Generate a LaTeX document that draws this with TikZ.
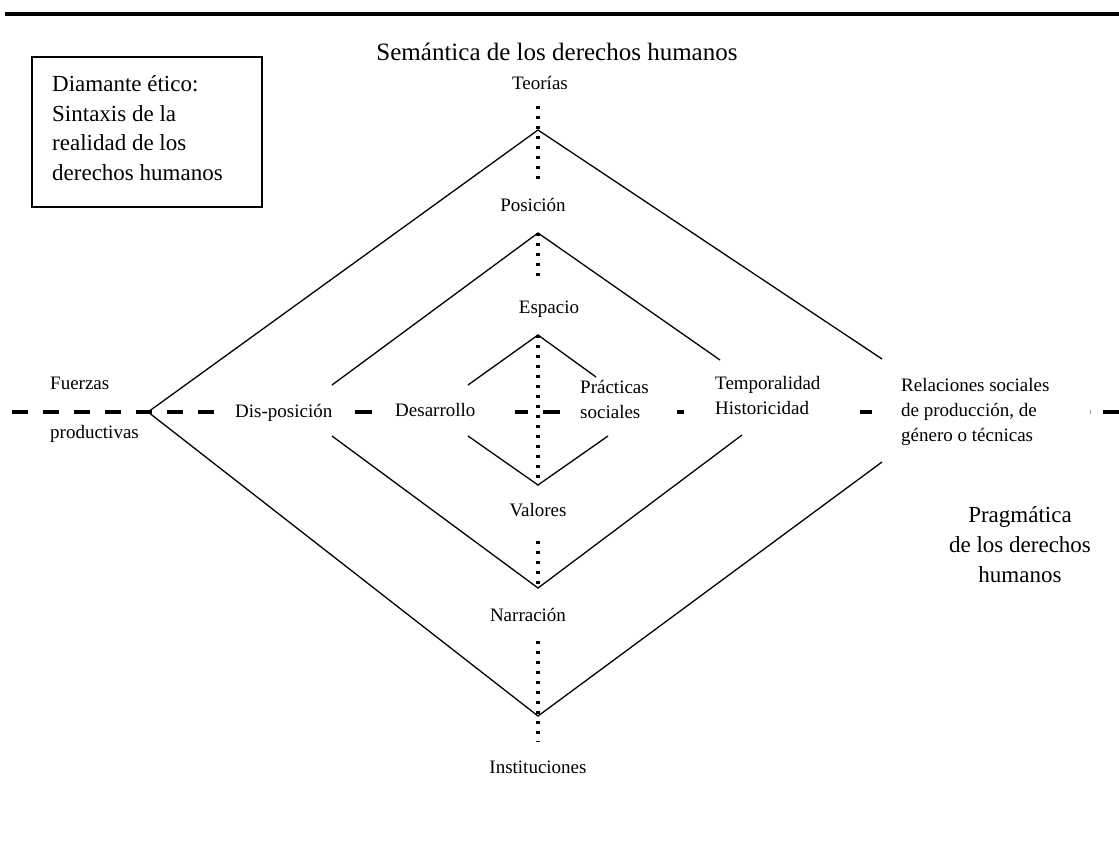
\documentclass[tikz,border=0pt]{standalone}
\usepackage{fontspec}
\setmainfont{Liberation Serif}
\begin{document}
\begin{tikzpicture}[x=1pt,y=-1pt,
  lbl/.style={inner sep=0pt,font=\fontsize{19}{25}\selectfont},
  big/.style={inner sep=0pt,font=\fontsize{23}{29.5}\selectfont},
  diam/.style={line width=1.3pt,black},
  vdots/.style={line width=3.3pt,dash pattern=on 3.3pt off 6.7pt},
  hdash/.style={line width=4pt}]
\useasboundingbox (0,0) rectangle (1119,854);
\fill[white] (0,0) rectangle (1119,854);
% top rule
\coordinate (rl) at (5,14); \coordinate (rr) at (1119,14);
\draw[line width=3.6pt] (rl) -- (rr);
% box
\node[draw,line width=1.2pt,minimum width=230pt,minimum height=150pt,inner sep=0pt] (box) at (147,132) {};
\node[big,anchor=base west,align=left] (boxtxt) at (52,180) {Diamante ético:\\Sintaxis de la\\realidad de los\\derechos humanos};
% title
\node[inner sep=0pt,font=\fontsize{25}{30}\selectfont,anchor=base] (sem) at (557,60) {Semántica de los derechos humanos};
% diamond coordinates
\coordinate (T1) at (538,130); \coordinate (L1) at (148,412); \coordinate (B1) at (538,716);
\coordinate (R1a) at (882,359); \coordinate (R1b) at (882,462);
\coordinate (T2) at (538,233); \coordinate (L2a) at (332,385); \coordinate (L2b) at (332,436);
\coordinate (B2) at (538,588); \coordinate (R2a) at (720,360); \coordinate (R2b) at (742,435);
\coordinate (T3) at (538,335); \coordinate (L3a) at (468,385); \coordinate (L3b) at (468,436);
\coordinate (B3) at (538,485); \coordinate (R3a) at (596,377); \coordinate (R3b) at (608,436);
\draw[diam] (L1) -- (T1) -- (R1a);
\draw[diam] (L1) -- (B1) -- (R1b);
\draw[diam] (L2a) -- (T2) -- (R2a);
\draw[diam] (L2b) -- (B2) -- (R2b);
\draw[diam] (L3a) -- (T3) -- (R3a);
\draw[diam] (L3b) -- (B3) -- (R3b);
% vertical dotted axis
\coordinate (v1a) at (538,106); \coordinate (v1b) at (538,180);
\coordinate (v2b) at (538,280);
\coordinate (v4a) at (538,541);
\coordinate (v5a) at (538,641); \coordinate (v5b) at (538,742);
\draw[vdots] (v1a) -- (v1b);
\draw[vdots] (T2) -- (v2b);
\draw[vdots] (T3) -- (B3);
\draw[vdots] (v4a) -- (B2);
\draw[vdots] (v5a) -- (v5b);
% horizontal dashed axis
\coordinate (h0a) at (12,412); \coordinate (h0b) at (214,412);
\draw[hdash,dash pattern=on 16pt off 15pt] (h0a) -- (h0b);
\coordinate (h1a) at (355,412); \coordinate (h1b) at (372,412);
\coordinate (h2a) at (515,412); \coordinate (h2b) at (528,412);
\coordinate (h3a) at (543,412); \coordinate (h3b) at (560,412);
\coordinate (h4a) at (677,412); \coordinate (h4b) at (684,412);
\coordinate (h5a) at (860,412); \coordinate (h5b) at (872,412);
\coordinate (h6a) at (1103,412); \coordinate (h6b) at (1119,412);
\coordinate (h7a) at (1090,410); \coordinate (h7b) at (1090,414);
\draw[hdash] (h1a) -- (h1b);
\draw[hdash] (h2a) -- (h2b);
\draw[hdash] (h3a) -- (h3b);
\draw[hdash] (h4a) -- (h4b);
\draw[hdash] (h5a) -- (h5b);
\draw[hdash] (h6a) -- (h6b);
\draw[line width=0.8pt,black!40] (h7a) -- (h7b);
% labels
\node[lbl,anchor=base] (teo) at (540,89) {Teorías};
\node[lbl,anchor=base] (pos) at (533,211) {Posición};
\node[lbl,anchor=base] (esp) at (549,313) {Espacio};
\node[lbl,anchor=base west] (fue) at (50,389) {Fuerzas};
\node[lbl,anchor=base west] (pro) at (50,438) {productivas};
\node[lbl,anchor=base west] (dis) at (235,417) {Dis-posición};
\node[lbl,anchor=base west] (des) at (395,416) {Desarrollo};
\node[lbl,anchor=base west,align=left] (pra) at (580,418) {Prácticas\\sociales};
\node[lbl,anchor=base west,align=left] (tem) at (715,414) {Temporalidad\\Historicidad};
\node[lbl,anchor=base west,align=left] (rel) at (901,441) {Relaciones sociales\\de producción, de\\género o técnicas};
\node[lbl,anchor=base] (val) at (538,516) {Valores};
\node[lbl,anchor=base] (nar) at (528,621) {Narración};
\node[lbl,anchor=base] (ins) at (538,773) {Instituciones};
\node[big,anchor=base,align=center,font=\fontsize{23}{30}\selectfont] (pra2) at (1020,582) {Pragmática\\de los derechos\\humanos};
\end{tikzpicture}
\end{document}
